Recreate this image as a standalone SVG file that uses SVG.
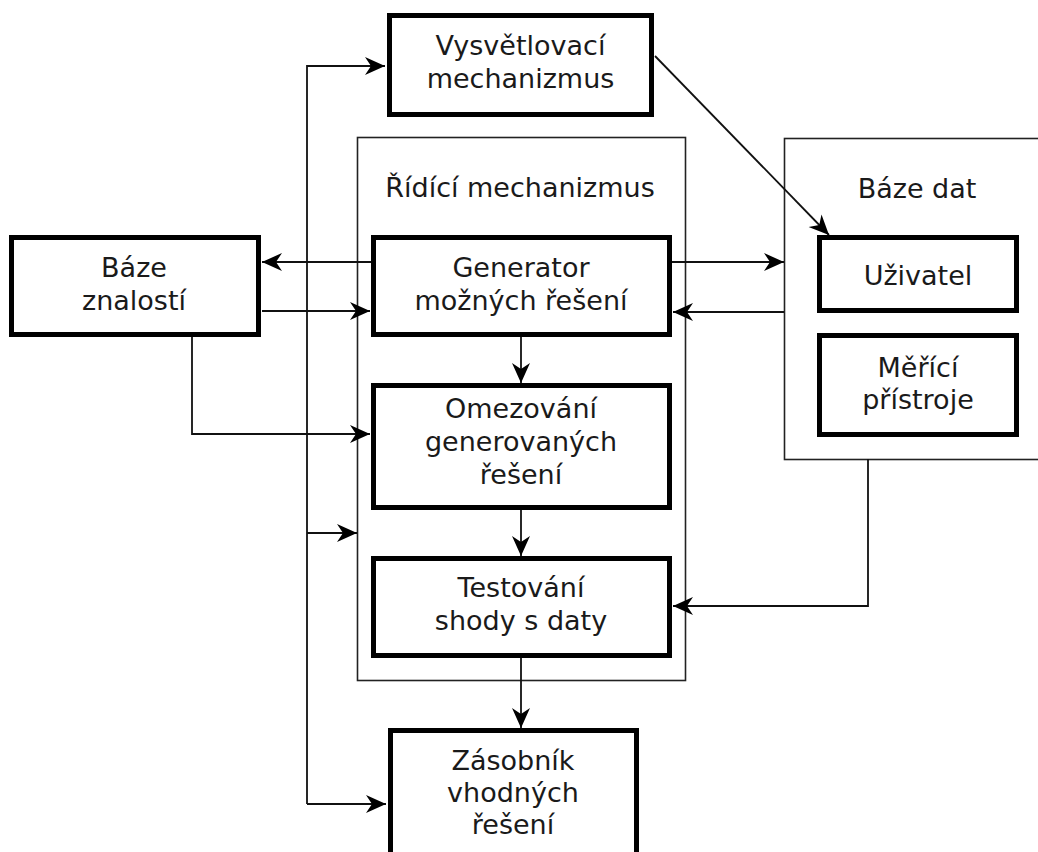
<svg xmlns="http://www.w3.org/2000/svg" width="1038" height="852" viewBox="0 0 1038 852">
<defs>
<style>
.node{fill:#fff;stroke:#000;stroke-width:5}
.cont{fill:#fff;stroke:#222;stroke-width:1.6}
.t{font-family:"DejaVu Sans",Verdana,sans-serif;font-size:27px;fill:#1a1a1a;text-anchor:middle}
.c{fill:none;stroke:#111;stroke-width:1.8}
</style>
<marker id="ar" viewBox="0 0 20 20" refX="20" refY="10" markerWidth="20" markerHeight="20" markerUnits="userSpaceOnUse" orient="auto">
<path d="M0,1 L20,10 L0,19 L6,10 Z" fill="#000"/>
</marker>
</defs>
<rect width="1038" height="852" fill="#fff"/>
<g id="ridici">
<rect class="cont" x="357.5" y="137.5" width="328" height="543"/>
<text class="t" x="520" y="197">Řídící mechanizmus</text>
</g>
<g id="baze-dat">
<rect class="cont" x="784.5" y="138.5" width="270" height="321"/>
<text class="t" x="917" y="198">Báze dat</text>
</g>
<g id="connectors">
<polyline class="c" points="307,804 307,66 385,66" marker-end="url(#ar)"/>
<line class="c" x1="307" y1="533" x2="357" y2="533" marker-end="url(#ar)"/>
<line class="c" x1="307" y1="804" x2="386" y2="804" marker-end="url(#ar)"/>
<line class="c" x1="371" y1="262" x2="262" y2="262" marker-end="url(#ar)"/>
<line class="c" x1="262" y1="311" x2="370" y2="311" marker-end="url(#ar)"/>
<polyline class="c" points="192,337 192,434 370,434" marker-end="url(#ar)"/>
<line class="c" x1="521" y1="337" x2="521" y2="383" marker-end="url(#ar)"/>
<line class="c" x1="521" y1="510" x2="521" y2="556" marker-end="url(#ar)"/>
<line class="c" x1="521" y1="658" x2="521" y2="728" marker-end="url(#ar)"/>
<line class="c" x1="672" y1="262" x2="784" y2="262" marker-end="url(#ar)"/>
<line class="c" x1="784" y1="312" x2="673" y2="312" marker-end="url(#ar)"/>
<polyline class="c" points="868,459 868,606 673,606" marker-end="url(#ar)"/>
<line class="c" x1="655" y1="56" x2="829" y2="235" marker-end="url(#ar)"/>
</g>
<g id="vysvetlovaci">
<rect class="node" x="389.5" y="15.5" width="262" height="99"/>
<text class="t" x="520.5" y="55">Vysvětlovací</text>
<text class="t" x="520.5" y="88">mechanizmus</text>
</g>
<g id="baze-znalosti">
<rect class="node" x="11.5" y="237.5" width="247" height="97"/>
<text class="t" x="134" y="277">Báze</text>
<text class="t" x="134" y="310">znalostí</text>
</g>
<g id="generator">
<rect class="node" x="373.5" y="237.5" width="296" height="97"/>
<text class="t" x="521" y="277">Generator</text>
<text class="t" x="521" y="310">možných řešení</text>
</g>
<g id="omezovani">
<rect class="node" x="373.5" y="385.5" width="296" height="122"/>
<text class="t" x="521" y="418">Omezování</text>
<text class="t" x="521" y="451">generovaných</text>
<text class="t" x="521" y="484">řešení</text>
</g>
<g id="testovani">
<rect class="node" x="373.5" y="558.5" width="296" height="97"/>
<text class="t" x="521" y="597">Testování</text>
<text class="t" x="521" y="630">shody s daty</text>
</g>
<g id="zasobnik">
<rect class="node" x="390.5" y="730.5" width="246" height="140"/>
<text class="t" x="513" y="770">Zásobník</text>
<text class="t" x="513" y="802">vhodných</text>
<text class="t" x="513" y="834">řešení</text>
</g>
<g id="uzivatel">
<rect class="node" x="819.5" y="237.5" width="197" height="73"/>
<text class="t" x="918" y="285">Uživatel</text>
</g>
<g id="merici">
<rect class="node" x="819.5" y="335.5" width="197" height="99"/>
<text class="t" x="918" y="377">Měřící</text>
<text class="t" x="918" y="409">přístroje</text>
</g>
</svg>
